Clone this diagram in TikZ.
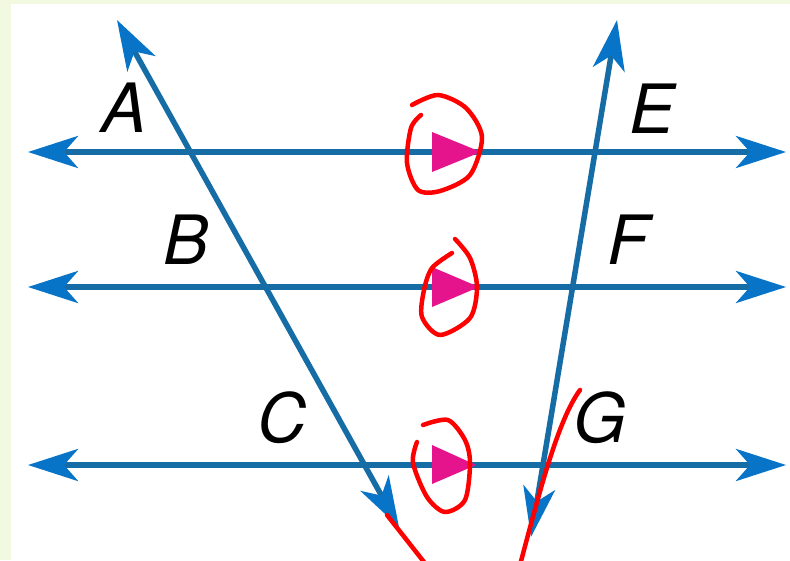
\documentclass[tikz,border=0pt]{standalone}
\usepackage{fontspec}
\setmainfont{TeX Gyre Heros}
\usetikzlibrary{arrows.meta,positioning}
\definecolor{lineblue}{RGB}{22,108,165}
\definecolor{tipblue}{RGB}{8,116,200}
\definecolor{pink}{RGB}{230,20,140}
\definecolor{paper}{RGB}{241,249,224}

\begin{document}
\begin{tikzpicture}[x=1pt, y=-1pt, every node/.style={font=\fontsize{68}{68}\selectfont\itshape, inner sep=0pt},
  >={Stealth[length=50pt, width=32pt, inset=14pt, color=tipblue]},
  blueline/.style={draw=lineblue, line width=5.5pt, <->},
  pinktri/.style={fill=pink},
  redpen/.style={draw=red, line width=4.5pt, line cap=round, line join=round}]
\useasboundingbox (0,0) rectangle (790,560);
\fill[paper] (0,0) rectangle (790,560);
\fill[white] (11,4) rectangle (790,560);

% end points of the parallel lines and the transversals
\coordinate (w1) at (28,152);  \coordinate (e1) at (786,152);
\coordinate (w2) at (28,287);  \coordinate (e2) at (786,287);
\coordinate (w3) at (28,465);  \coordinate (e3) at (786,465);
\coordinate (ltop) at (117,20);  \coordinate (lbot) at (399,527);
\coordinate (rtop) at (617,20);  \coordinate (rbot) at (531,537);

\draw[blueline] (w1) -- (e1);
\draw[blueline] (w2) -- (e2);
\draw[blueline] (w3) -- (e3);
\draw[blueline] (ltop) -- (lbot);
\draw[blueline] (rtop) -- (rbot);

% labels
\node (A) at (124,108) {A};
\node (B) at (186,240) {B};
\node (C) at (282,418) {C};
\node (E) at (652,109) {E};
\node (F) at (628,240) {F};
\node (G) at (600,418) {G};

% parallel marks
\fill[pinktri] (432,132) -- (432,172) -- (481,152) -- cycle;
\fill[pinktri] (432,267) -- (432,307) -- (479,287) -- cycle;
\fill[pinktri] (432,445) -- (432,484) -- (476,465) -- cycle;

% red pen
\draw[redpen] plot[smooth] coordinates {(412,105) (438,95) (466,108) (482,137) (470,175) (440,191) (418,190) (407,163) (411,128) (421,115)};
\draw[redpen] plot[smooth] coordinates {(455,239) (470,258) (477,287) (470,318) (440,335) (422,317) (424,290) (432,268) (452,253)};
\draw[redpen] plot[smooth] coordinates {(423,425) (448,420) (465,440) (470,463) (465,500) (445,512) (427,497) (413,463) (417,442)};
\draw[redpen] (387,515) -- (424,562);
\draw[redpen] (580,390) .. controls (558,420) and (540,490) .. (520,565);
\end{tikzpicture}
\end{document}
